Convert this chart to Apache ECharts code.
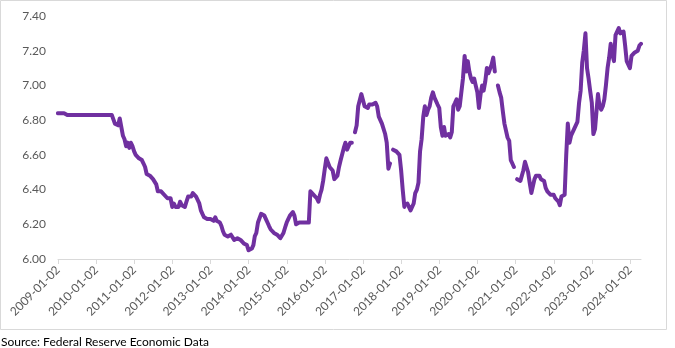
<!DOCTYPE html>
<html>
<head>
<meta charset="utf-8">
<title>USD/CNY</title>
<script src="https://cdn.jsdelivr.net/npm/echarts@6/dist/echarts.min.js"></script>
<style>
  html, body { margin: 0; padding: 0; background: #fff; }
  #chart { width: 675px; height: 348px; }
</style>
</head>
<body>
<div id="chart"></div>
<script>
// USD/CNY spot rate, sampled on the 1st and 16th of each month (null = no quote)
const rate2009 = [6.84, 6.84, 6.84, 6.83, 6.84, 6.83, 6.83, 6.82, 6.83, 6.83, 6.83, 6.83,
                  6.83, 6.83, 6.83, 6.83, 6.83, 6.83, 6.83, 6.83, 6.83, 6.83, 6.83, 6.83];
const rate2010 = [6.83, 6.83, 6.83, 6.83, 6.83, 6.83, 6.83, 6.83, 6.83, 6.83, 6.83, 6.82,
                  6.78, 6.77, 6.77, 6.81, 6.80, 6.71, 6.69, 6.65, 6.67, 6.64, 6.67, 6.65];
const rate2011 = [6.62, 6.60, 6.59, 6.58, 6.57, 6.57, 6.55, 6.53, 6.49, 6.50, 6.48, 6.48,
                  6.46, 6.45, 6.43, 6.39, 6.38, 6.39, 6.38, 6.37, 6.36, 6.35, 6.36, 6.35];
const rate2012 = [6.30, 6.32, 6.30, 6.30, 6.30, 6.33, 6.31, 6.30, 6.30, 6.33, 6.36, 6.37,
                  6.36, 6.38, 6.38, 6.36, 6.35, 6.32, 6.28, 6.26, 6.24, 6.23, 6.23, 6.23];
const rate2013 = [6.23, 6.22, 6.22, 6.24, 6.22, 6.21, 6.21, 6.19, 6.16, 6.14, 6.13, 6.13,
                  6.14, 6.14, 6.13, 6.11, 6.12, 6.12, 6.12, 6.11, 6.10, 6.09, 6.09, 6.08];
const rate2014 = [6.05, 6.05, 6.06, 6.08, 6.13, 6.15, 6.21, 6.22, 6.26, 6.25, 6.25, 6.23,
                  6.21, 6.19, 6.17, 6.16, 6.15, 6.14, 6.14, 6.13, 6.12, 6.12, 6.15, 6.18];
const rate2015 = [6.21, 6.23, 6.25, 6.26, 6.27, 6.25, 6.20, 6.21, 6.21, 6.20, 6.21, 6.21,
                  6.21, 6.21, 6.21, 6.39, 6.38, 6.37, 6.36, 6.35, 6.33, 6.37, 6.40, 6.45];
const rate2016 = [6.52, 6.58, 6.58, 6.53, 6.52, 6.51, 6.46, 6.46, 6.48, 6.53, 6.57, 6.58,
                  6.64, 6.67, 6.63, 6.65, 6.67, 6.67, null, 6.73, 6.77, 6.88, 6.89, 6.95];
const rate2017 = [6.95, 6.88, 6.87, 6.87, 6.89, 6.90, 6.89, 6.88, 6.90, 6.88, 6.82, 6.81,
                  6.78, 6.77, 6.72, 6.67, 6.52, 6.55, null, 6.63, 6.63, 6.62, 6.61, 6.60];
const rate2018 = [6.51, 6.40, 6.30, null, 6.32, 6.33, 6.28, 6.28, 6.32, 6.38, 6.40, 6.44,
                  6.62, 6.69, 6.82, 6.88, 6.83, 6.86, 6.88, 6.93, 6.96, 6.93, 6.94, 6.89];
const rate2019 = [6.87, 6.76, 6.71, 6.76, 6.71, 6.71, 6.72, 6.70, 6.73, 6.88, 6.90, 6.92,
                  6.86, 6.88, 6.89, 7.04, 7.17, 7.08, 7.14, 7.08, 7.04, 7.02, 7.04, 7.00];
const rate2020 = [6.96, 6.87, 6.95, 7.00, 6.97, 7.02, 7.10, 7.07, 7.07, 7.12, 7.16, 7.08,
                  null, 7.00, 6.96, 6.93, 6.85, 6.78, 6.79, 6.70, 6.68, 6.57, 6.55, 6.53];
const rate2021 = [null, 6.46, 6.46, 6.45, 6.46, 6.51, 6.56, 6.53, 6.50, 6.44, 6.38, 6.39,
                  6.46, 6.48, 6.47, 6.48, 6.46, 6.45, 6.45, 6.41, 6.39, 6.38, 6.37, 6.37];
const rate2022 = [6.37, 6.35, 6.36, 6.33, 6.31, 6.36, 6.36, 6.37, 6.60, 6.78, 6.67, 6.71,
                  6.70, 6.75, 6.75, 6.79, 6.90, 6.97, 7.13, 7.20, 7.30, 7.10, 7.04, 6.97];
const rate2023 = [6.90, 6.72, 6.75, 6.86, 6.95, 6.88, 6.86, 6.88, 6.92, 7.00, 7.10, 7.16,
                  7.24, 7.18, 7.14, 7.29, 7.28, 7.33, 7.30, 7.31, 7.31, 7.23, 7.14, 7.13];
const rate2024 = [7.10, 7.17, 7.18, 7.19, 7.19, 7.20, 7.23, 7.24];

const rateByYear = [
  [2009, rate2009], [2010, rate2010], [2011, rate2011], [2012, rate2012],
  [2013, rate2013], [2014, rate2014], [2015, rate2015], [2016, rate2016],
  [2017, rate2017], [2018, rate2018], [2019, rate2019], [2020, rate2020],
  [2021, rate2021], [2022, rate2022], [2023, rate2023], [2024, rate2024]
];

// Axis tick dates
const tickDates = ['2009-01-02', '2010-01-02', '2011-01-02', '2012-01-02', '2013-01-02',
                   '2014-01-02', '2015-01-02', '2016-01-02', '2017-01-02', '2018-01-02',
                   '2019-01-02', '2020-01-02', '2021-01-02', '2022-01-02', '2023-01-02',
                   '2024-01-02'];
const yTicks = [6.00, 6.20, 6.40, 6.60, 6.80, 7.00, 7.20, 7.40];
const sourceText = 'Source: Federal Reserve Economic Data';

// Pair each value with its sampling date (1st / 16th of the month)
const seriesData = [];
rateByYear.forEach(([year, vals]) => {
  vals.forEach((v, i) => {
    const month = String(Math.floor(i / 2) + 1).padStart(2, '0');
    const day = i % 2 === 0 ? '01' : '16';
    seriesData.push([`${year}-${month}-${day}`, v]);
  });
});
const lastDate = seriesData[seriesData.length - 1][0];

const FONT = 'Lato';
const chart = echarts.init(document.getElementById('chart'), null, { renderer: 'canvas' });

chart.setOption({
  animation: false,
  backgroundColor: '#fff',
  grid: { left: 58, right: 34, top: 16, bottom: 89, containLabel: false },
  xAxis: {
    type: 'time',
    min: tickDates[0],
    max: lastDate,
    axisLine: { show: true, lineStyle: { color: '#d9d9d9', width: 1 } },
    axisTick: { show: true, length: 5, lineStyle: { color: '#d9d9d9' }, customValues: tickDates },
    axisLabel: {
      customValues: tickDates,
      rotate: 45,
      margin: 9,
      formatter: '{yyyy}-{MM}-{dd}',
      color: '#595959',
      fontFamily: FONT,
      fontSize: 12
    },
    splitLine: { show: false }
  },
  yAxis: {
    type: 'value',
    min: yTicks[0],
    max: yTicks[yTicks.length - 1],
    interval: 0.2,
    axisLine: { show: false },
    axisTick: { show: false },
    splitLine: { show: false },
    axisLabel: {
      margin: 12,
      color: '#595959',
      fontFamily: FONT,
      fontSize: 12,
      formatter: (v) => v.toFixed(2)
    }
  },
  graphic: [
    {
      type: 'rect',
      shape: { x: 0.5, y: 0.5, width: 666, height: 329 },
      style: { fill: 'none', stroke: '#d9d9d9', lineWidth: 1 },
      silent: true
    },
    {
      type: 'text',
      left: 1,
      top: 336,
      style: { text: sourceText, fill: '#000', font: `12px ${FONT}` },
      silent: true
    }
  ],
  series: [{
    type: 'line',
    data: seriesData,
    showSymbol: false,
    connectNulls: false,
    lineStyle: { color: '#7030a0', width: 4, join: 'round', cap: 'round' },
    itemStyle: { color: '#7030a0' }
  }]
});
</script>
</body>
</html>
